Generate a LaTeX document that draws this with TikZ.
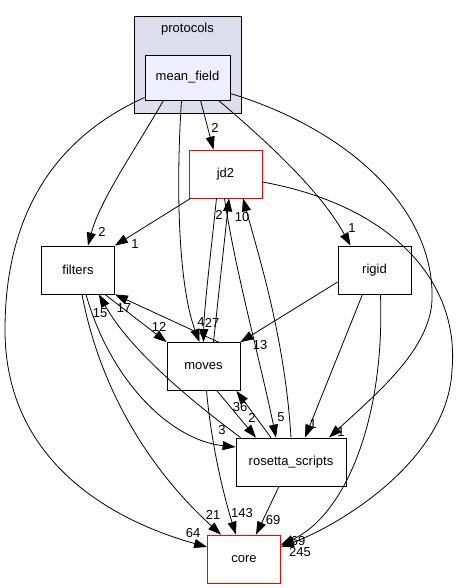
\documentclass[tikz,border=0pt]{standalone}
\usepackage{fontspec}
\setmainfont{Liberation Sans}
\usetikzlibrary{arrows.meta,positioning,calc}
\definecolor{clusterFill}{HTML}{DDDDEE}
\definecolor{focusFill}{HTML}{EEEEFF}
\definecolor{refRed}{HTML}{FF0000}
\tikzset{
  dirbox/.style={draw=black, fill=white, line width=0.8pt, inner sep=0pt,
    minimum width=73pt, minimum height=48pt, font=\fontsize{13}{15}\selectfont},
  refbox/.style={dirbox, draw=refRed},
  focusbox/.style={dirbox, fill=focusFill, minimum width=85pt, minimum height=45pt},
  clusterbox/.style={draw=black, fill=clusterFill, line width=0.8pt,
    minimum width=107pt, minimum height=97pt},
  dep/.style={-{Triangle[length=13pt, width=9pt]}, line width=0.8pt},
  cnt/.style={inner sep=0pt, font=\fontsize{13}{15}\selectfont},
}

\begin{document}
\begin{tikzpicture}[x=1pt, y=-1pt]
    \useasboundingbox (0,0) rectangle (458,588);
    % directories
    \node[clusterbox] (protocols) at (187.5,64.5) {};
    \node[cnt] (protocolsname) at (187.5,29) {protocols};
    \node[focusbox] (mf) at (187.5,77.5) {mean\_field};
    \node[refbox] (jd2) at (225.5,174) {jd2};
    \node[dirbox] (filters) at (78,270) {filters};
    \node[dirbox] (rigid) at (374.5,270) {rigid};
    \node[dirbox] (moves) at (203.5,366.5) {moves};
    \node[dirbox, minimum width=110pt] (rosetta) at (291,462) {rosetta\_scripts};
    \node[refbox] (core) at (244,559) {core};
    % dependencies of mean_field
    \draw[dep] ([xshift=13]mf.south) -- ([xshift=-12]jd2.north);
    \draw[dep] ([xshift=-24]mf.south) .. controls (135,150) and (100,200) .. ([xshift=10]filters.north);
    \draw[dep] ([xshift=-6]mf.south) .. controls (175,200) and (180,290) .. ([xshift=-4]moves.north);
    \draw[dep] ([xshift=31]mf.south) .. controls (265,140) and (320,190) .. ([xshift=-24]rigid.north);
    \draw[dep] ([yshift=-16]mf.east) .. controls (350,130) and (435,210) .. (432,300)
      .. controls (430,350) and (375,395) .. ([xshift=38]rosetta.north);
    \draw[dep] ([yshift=-20]mf.west) .. controls (50,140) and (5,220) .. (5,330)
      .. controls (5,460) and (110,520) .. ([yshift=12]core.west);
    % dependencies of jd2
    \draw[dep] ([xshift=2]jd2.south west) -- (filters.north east);
    \draw[dep] ([xshift=-9]jd2.south) .. controls (210,260) and (204,310) .. (moves.north);
    \draw[dep] ([xshift=-1]jd2.south) .. controls (235,270) and (260,360) .. ([xshift=-15]rosetta.north);
    \draw[dep] ([yshift=-8]jd2.east) .. controls (390,205) and (460,280) .. (452,370)
      .. controls (448,460) and (340,525) .. ([yshift=12]core.east);
    % dependencies of rigid
    \draw[dep] ([yshift=-12]rigid.west) -- (moves.north east);
    \draw[dep] ([xshift=-12]rigid.south) -- ([xshift=14]rosetta.north);
    \draw[dep] ([xshift=6]rigid.south) .. controls (385,420) and (345,515) .. ([yshift=14]core.east);
    % dependencies of filters
    \draw[dep] ([xshift=-10]filters.south east) -- (moves.north west);
    \draw[dep] ([xshift=8]filters.south) .. controls (110,380) and (170,440) .. ([yshift=15]rosetta.west);
    \draw[dep] ([xshift=4]filters.south) .. controls (100,390) and (150,470) .. ([xshift=-23]core.north);
    % dependencies of moves
    \draw[dep] ([xshift=10]moves.north) -- ([xshift=3.5]jd2.south);
    \draw[dep] ([xshift=-22]moves.north east) -- (filters.south east);
    \draw[dep] ([xshift=13.5]moves.south) -- ([xshift=-35]rosetta.north);
    \draw[dep] ([xshift=3]moves.south) .. controls (212,450) and (225,500) .. ([xshift=-8]core.north);
    % dependencies of rosetta_scripts
    \draw[dep] (rosetta.north) .. controls (285,340) and (260,260) .. ([xshift=17.5]jd2.south);
    \draw[dep] ([xshift=-20]rosetta.north) -- ([xshift=-4]moves.south east);
    \draw[dep] ([xshift=5]rosetta.north west) .. controls (190,400) and (130,350) .. ([xshift=-16]filters.south east);
    \draw[dep] ([xshift=-12]rosetta.south) -- ([xshift=12]core.north);
    % counts
    \node[cnt] (c-mf-jd2) at (215,128) {2};
    \node[cnt] (c-mf-filters) at (102,232) {2};
    \node[cnt] (c-mf-moves) at (201,322) {4};
    \node[cnt] (c-jd2-moves) at (212,323) {27};
    \node[cnt] (c-mf-rigid) at (352,228) {1};
    \node[cnt] (c-mf-rosetta) at (341,432) {1};
    \node[cnt] (c-mf-core) at (193,533) {64};
    \node[cnt] (c-jd2-filters) at (135,244) {1};
    \node[cnt] (c-moves-jd2) at (219,215) {2};
    \node[cnt] (c-rosetta-jd2) at (242,217) {10};
    \node[cnt] (c-jd2-rosetta) at (281,417) {5};
    \node[cnt] (c-jd2-core) at (300,552) {245};
    \node[cnt] (c-rigid-moves) at (260,345) {13};
    \node[cnt] (c-rigid-rosetta) at (313,424) {1};
    \node[cnt] (c-rigid-core) at (298,541) {69};
    \node[cnt] (c-filters-moves) at (159,327) {12};
    \node[cnt] (c-moves-filters) at (124,308) {17};
    \node[cnt] (c-rosetta-filters) at (100,313) {15};
    \node[cnt] (c-filters-rosetta) at (222,430) {3};
    \node[cnt] (c-filters-core) at (213,515) {21};
    \node[cnt] (c-moves-core) at (242,513) {143};
    \node[cnt] (c-rosetta-core) at (273,520) {69};
    \node[cnt] (c-moves-rosetta) at (252,418) {2};
    \node[cnt] (c-rosetta-moves) at (240,407) {36};
  \end{tikzpicture}
\end{document}
